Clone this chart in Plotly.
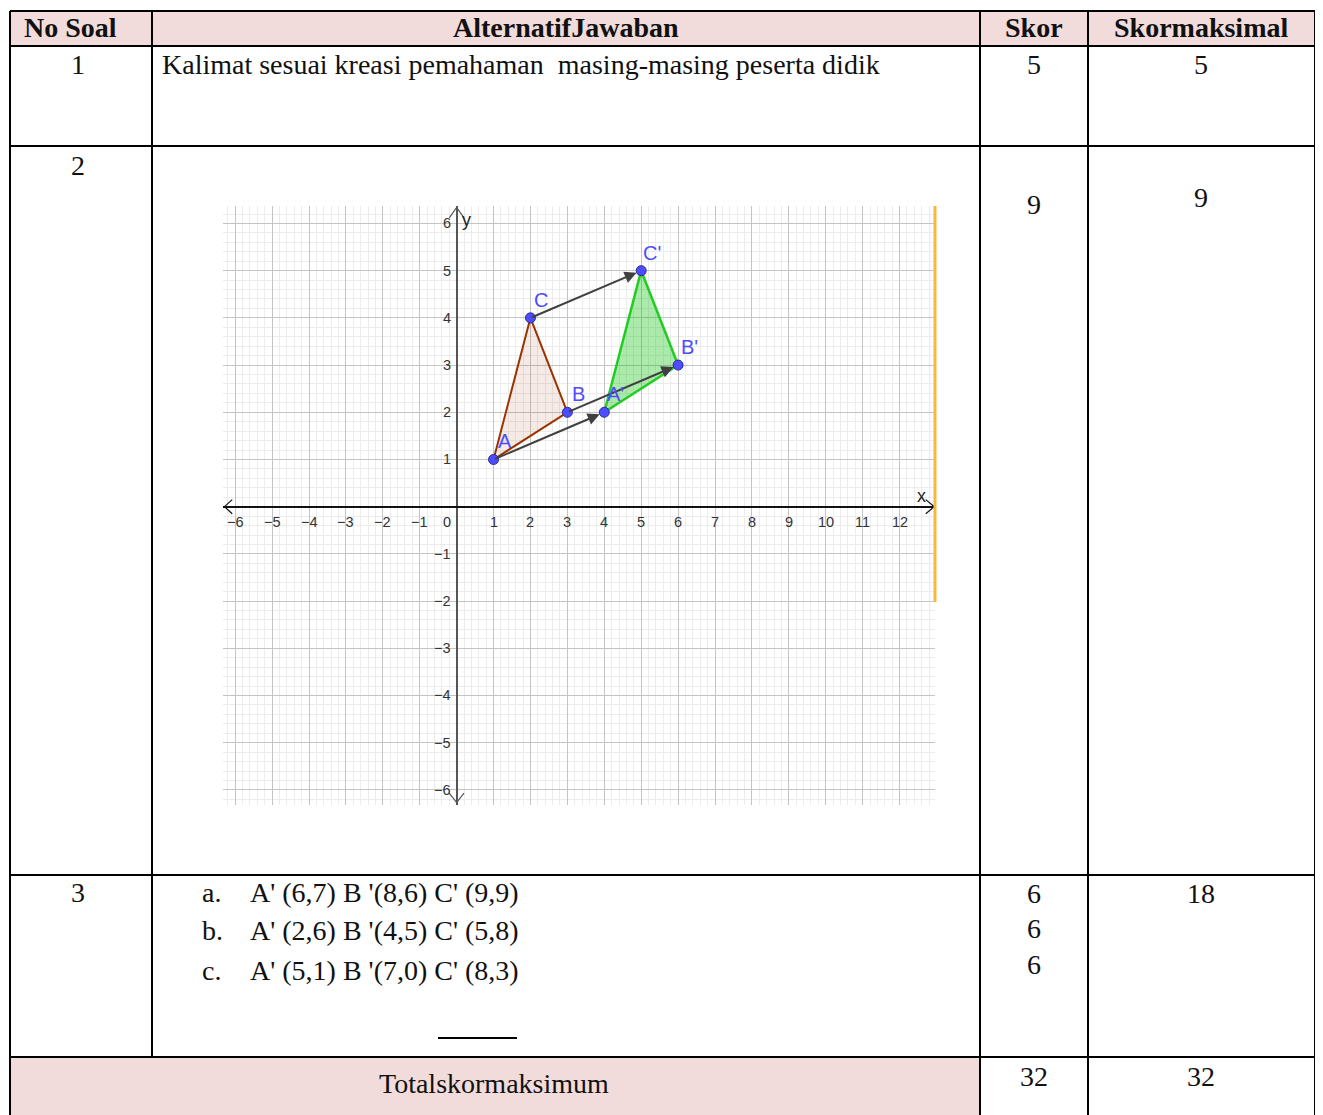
import plotly.graph_objects as go

# %% data
# table text
headers = ['No Soal', 'AlternatifJawaban', 'Skor', 'Skormaksimal']
row1_answer = 'Kalimat sesuai kreasi pemahaman  masing-masing peserta didik'
row3_letters = ['a.', 'b.', 'c.']
row3_answers = ["A' (6,7) B '(8,6) C' (9,9)",
                "A' (2,6) B '(4,5) C' (5,8)",
                "A' (5,1) B '(7,0) C' (8,3)"]
row3_scores = ['6', '6', '6']
scores = ['5', '9']
max_scores = ['5', '9', '18']
total_label = 'Totalskormaksimum'
total_score = '32'
total_max = '32'

# graph: original triangle and its translation
tri_names = ['A', 'B', 'C']
tri_x = [1, 3, 2]
tri_y = [1, 2, 4]
img_names = ["A'", "B'", "C'"]
img_x = [4, 6, 5]
img_y = [2, 3, 5]

x_ticks = list(range(-6, 13))
y_ticks = list(range(-6, 7))

# %% helpers (page pixel -> paper), page body has an 8px margin
OFF = 8
W, H = 1323 - OFF, 1115 - OFF


def px(x):
    return (x - OFF) / W


def py(y):
    return 1 - (y - OFF) / H


fig = go.Figure()

# triangles
fig.add_trace(go.Scatter(
    x=tri_x + [tri_x[0]], y=tri_y + [tri_y[0]],
    mode='lines', fill='toself',
    fillcolor='rgba(153,51,0,0.1)',
    line=dict(color='#993300', width=2),
    hoverinfo='skip'))
fig.add_trace(go.Scatter(
    x=img_x + [img_x[0]], y=img_y + [img_y[0]],
    mode='lines', fill='toself',
    fillcolor='rgba(0,190,0,0.33)',
    line=dict(color='#22cc22', width=2.5),
    hoverinfo='skip'))

# axis arrows
xr = [-6.33, 12.96]
yr = [-6.32, 6.37]
fig.add_trace(go.Scatter(
    x=[xr[1] - 0.25, xr[1] - 0.02, xr[1] - 0.25, None,
       xr[0] + 0.25, xr[0] + 0.04, xr[0] + 0.25],
    y=[0.15, 0, -0.15, None, 0.15, 0, -0.15],
    mode='lines', line=dict(color='#111111', width=1.2), hoverinfo='skip'))
fig.add_trace(go.Scatter(
    x=[-0.2, 0, 0.2, None, -0.2, 0, 0.2],
    y=[yr[1] - 0.25, yr[1] - 0.03, yr[1] - 0.25, None,
       yr[0] + 0.25, yr[0] + 0.05, yr[0] + 0.25],
    mode='lines', line=dict(color='#555555', width=1.2), hoverinfo='skip'))

# points
fig.add_trace(go.Scatter(
    x=tri_x + img_x, y=tri_y + img_y, mode='markers',
    marker=dict(size=10, color='#4d4dff',
                line=dict(color='#2a2a99', width=1)),
    hoverinfo='skip'))

annotations = []
# translation vectors
for x0, y0, x1, y1 in zip(tri_x, tri_y, img_x, img_y):
    annotations.append(dict(
        x=x1, y=y1, ax=x0, ay=y0, xref='x', yref='y', axref='x', ayref='y',
        text='', showarrow=True, arrowhead=2, arrowsize=1.2,
        arrowwidth=2, arrowcolor='#404040', standoff=5))

# point labels
for n, x, y in zip(tri_names + img_names, tri_x + img_x, tri_y + img_y):
    annotations.append(dict(
        x=x, y=y, xref='x', yref='y', text=n, showarrow=False,
        xshift=11, yshift=18,
        font=dict(family='Liberation Sans', size=20, color='#4d4dff')))

# tick labels
tick_font = dict(family='Liberation Sans', size=14.5, color='#333333')
for t in x_ticks:
    if t == 0:
        continue
    annotations.append(dict(
        x=t, y=0, xref='x', yref='y', showarrow=False, yshift=-15,
        text=str(t).replace('-', '\u2212'), font=tick_font))
annotations.append(dict(x=0, y=0, xref='x', yref='y', showarrow=False,
                        xshift=-10, yshift=-15, text='0', font=tick_font))
for t in y_ticks:
    if t == 0:
        continue
    annotations.append(dict(
        x=0, y=t, xref='x', yref='y', showarrow=False, xanchor='right',
        xshift=-4, text=str(t).replace('-', '\u2212'), font=tick_font))
annotations.append(dict(x=xr[1], y=0, xref='x', yref='y', showarrow=False,
                        xshift=-14, yshift=11, text='x',
                        font=dict(family='Liberation Sans', size=18, color='#222')))
annotations.append(dict(x=0, y=yr[1], xref='x', yref='y', showarrow=False,
                        xshift=10, yshift=-14, text='y',
                        font=dict(family='Liberation Sans', size=18, color='#222')))

# %% table
serif = 'Liberation Serif'
tfont = dict(family=serif, size=28, color='#111111')


def cell(x, y, text, anchor='center'):
    annotations.append(dict(
        x=px(x), y=py(y), xref='paper', yref='paper', text=text,
        showarrow=False, xanchor=anchor, yanchor='middle', font=tfont))


for x, h in zip([70, 566, 1034, 1201], headers):
    cell(x, 28, '<b>' + h + '</b>')

cell(78, 65, '1')
cell(160, 65, row1_answer, 'left')
cell(1034, 64, scores[0])
cell(1201, 64, max_scores[0])

cell(78, 165, '2')
cell(1034, 204, scores[1])
cell(1201, 197, max_scores[1])

cell(78, 892, '3')
for i, (l, a) in enumerate(zip(row3_letters, row3_answers)):
    cell(200, 892 + 39 * i, l, 'left')
    cell(248, 892 + 39 * i, a, 'left')
for i, s in enumerate(row3_scores):
    cell(1034, 893 + 35.5 * i, s)
cell(1201, 893, max_scores[2])

cell(494, 1083, total_label)
cell(1034, 1076, total_score)
cell(1201, 1076, total_max)

shapes = []
pink = '#f2dcdb'
shapes.append(dict(type='rect', xref='paper', yref='paper', layer='below',
                   x0=px(10), x1=px(1315), y0=py(11), y1=py(46),
                   fillcolor=pink, line=dict(width=0)))
shapes.append(dict(type='rect', xref='paper', yref='paper', layer='below',
                   x0=px(10), x1=px(980), y0=py(1057), y1=py(1116),
                   fillcolor=pink, line=dict(width=0)))


def hline(y, x0, x1, w=2):
    shapes.append(dict(type='line', xref='paper', yref='paper',
                       x0=px(x0), x1=px(x1), y0=py(y), y1=py(y),
                       line=dict(color='black', width=w)))


def vline(x, y0, y1, w=2):
    shapes.append(dict(type='line', xref='paper', yref='paper',
                       x0=px(x), x1=px(x), y0=py(y0), y1=py(y1),
                       line=dict(color='black', width=w)))


for y in [11, 46, 146, 875, 1057]:
    hline(y, 10, 1315)
vline(10, 11, 1116)
vline(152, 11, 1057)
vline(980, 11, 1116)
vline(1088, 11, 1116)
vline(1315, 11, 1116)
hline(1038, 438, 517)

# orange edge of the pasted screenshot
shapes.append(dict(type='line', xref='paper', yref='paper',
                   x0=px(935), x1=px(935), y0=py(206), y1=py(602),
                   line=dict(color='#f5b940', width=3)))

fig.update_layout(
    width=W, height=H,
    margin=dict(l=0, r=0, t=0, b=0),
    paper_bgcolor='white', plot_bgcolor='white',
    showlegend=False,
    annotations=annotations,
    shapes=shapes,
    xaxis=dict(domain=[px(223), px(935)], range=xr, dtick=1, tick0=0,
               showticklabels=False, ticks='', showline=False,
               gridcolor='#c4c4c4', gridwidth=1,
               minor=dict(dtick=0.2, showgrid=True, gridcolor='#ececec'),
               zeroline=True, zerolinecolor='#555555', zerolinewidth=2,
               fixedrange=True),
    yaxis=dict(domain=[py(805), py(206)], range=yr, dtick=1, tick0=0,
               showticklabels=False, ticks='', showline=False,
               gridcolor='#c4c4c4', gridwidth=1,
               minor=dict(dtick=0.2, showgrid=True, gridcolor='#ececec'),
               zeroline=True, zerolinecolor='#111111', zerolinewidth=1.5,
               fixedrange=True),
)

fig.write_html('out.html')
